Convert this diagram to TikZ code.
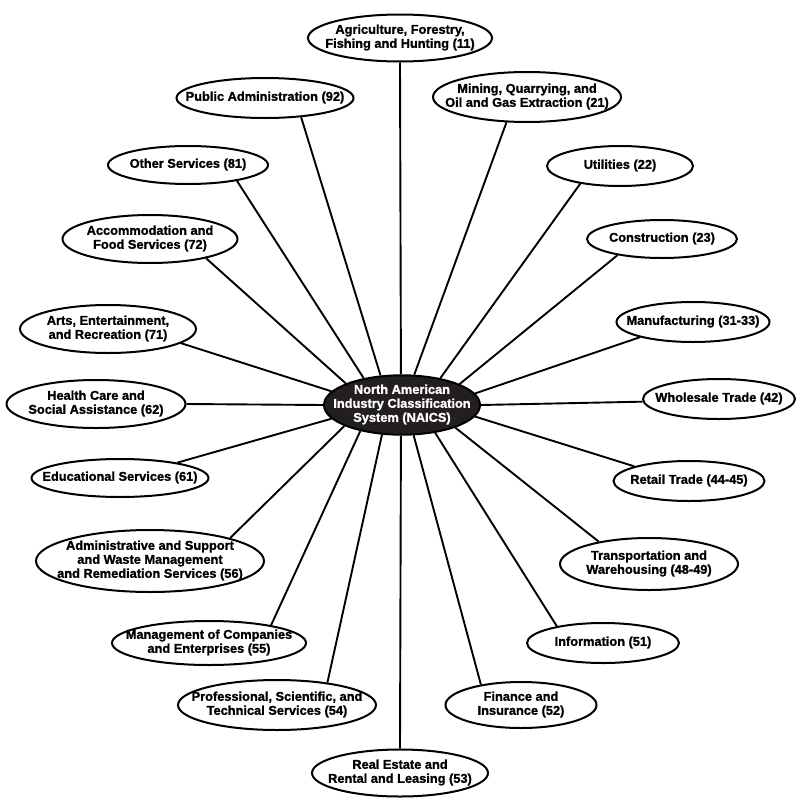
\documentclass[tikz,border=0pt]{standalone}
\usepackage{fontspec}
\setmainfont{Liberation Sans}[BoldFeatures={FakeBold=1.2}]
\usetikzlibrary{shapes.geometric}
\newcommand\lab[1]{\makebox[0pt]{\begin{tabular}{@{}c@{}}#1\end{tabular}}}
\definecolor{hubfill}{HTML}{231F20}
\tikzset{
  leaf/.style={ellipse, draw=black, line width=2pt, fill=white, inner sep=0pt,
    font=\fontsize{12.8}{14}\selectfont\bfseries, text=black},
  hubnode/.style={ellipse, draw=black, line width=2pt, fill=hubfill, inner sep=0pt,
    font=\fontsize{12.8}{14}\selectfont\bfseries, text=white},
  link/.style={draw=black, line width=1.9pt}
}
\begin{document}
\begin{tikzpicture}[x=1pt,y=-1pt]
\useasboundingbox (0,0) rectangle (800,811);
\node[hubnode, minimum width=156, minimum height=54] (hub) at (402,405)
  {\lab{North American\\Industry Classification\\System (NAICS)}};
\node[leaf, minimum width=184, minimum height=47] (agri) at (400,38) {\lab{Agriculture, Forestry,\\Fishing and Hunting (11)}};
\node[leaf, minimum width=188, minimum height=50] (mining) at (527,97) {\lab{Mining, Quarrying, and\\Oil and Gas Extraction (21)}};
\node[leaf, minimum width=146, minimum height=40] (util) at (620,166) {\lab{Utilities (22)}};
\node[leaf, minimum width=150, minimum height=38] (constr) at (662,239) {\lab{Construction (23)}};
\node[leaf, minimum width=153, minimum height=40] (manuf) at (693,322) {\lab{Manufacturing (31-33)}};
\node[leaf, minimum width=152, minimum height=40] (whole) at (719,399) {\lab{Wholesale Trade (42)}};
\node[leaf, minimum width=151, minimum height=40] (retail) at (689,481) {\lab{Retail Trade (44-45)}};
\node[leaf, minimum width=178, minimum height=52] (trans) at (649,564) {\lab{Transportation and\\Warehousing (48-49)}};
\node[leaf, minimum width=152, minimum height=40] (info) at (603,643) {\lab{Information (51)}};
\node[leaf, minimum width=151, minimum height=46] (fin) at (521,705) {\lab{Finance and\\Insurance (52)}};
\node[leaf, minimum width=176, minimum height=47] (real) at (400,773) {\lab{Real Estate and\\Rental and Leasing (53)}};
\node[leaf, minimum width=198, minimum height=50] (prof) at (277,705) {\lab{Professional, Scientific, and\\Technical Services (54)}};
\node[leaf, minimum width=194, minimum height=44] (mgmt) at (209,643) {\lab{Management of Companies\\and Enterprises (55)}};
\node[leaf, minimum width=228, minimum height=62] (admin) at (150,561) {\lab{Administrative and Support\\and Waste Management\\and Remediation Services (56)}};
\node[leaf, minimum width=177, minimum height=38] (edu) at (120,478) {\lab{Educational Services (61)}};
\node[leaf, minimum width=179, minimum height=48] (health) at (96,404) {\lab{Health Care and\\Social Assistance (62)}};
\node[leaf, minimum width=176, minimum height=48] (arts) at (108,329) {\lab{Arts, Entertainment,\\and Recreation (71)}};
\node[leaf, minimum width=175, minimum height=48] (accom) at (150,239) {\lab{Accommodation and\\Food Services (72)}};
\node[leaf, minimum width=160, minimum height=38] (other) at (188,165) {\lab{Other Services (81)}};
\node[leaf, minimum width=177, minimum height=40] (pubadm) at (265,98) {\lab{Public Administration (92)}};
\draw[link] (agri.270) -- (hub.92);
\draw[link] (pubadm.332) -- (hub.126);
\draw[link] (other.342) -- (hub.145);
\draw[link] (accom.341) -- (hub.159);
\draw[link] (arts.349) -- (hub.169);
\draw[link] (health.0) -- (hub.180);
\draw[link] (edu.15) -- (hub.191);
\draw[link] (admin.16) -- (hub.200);
\draw[link] (mgmt.16) -- (hub.212);
\draw[link] (prof.24) -- (hub.236);
\draw[link] (real.90) -- (hub.268);
\draw[link] (fin.153) -- (hub.291);
\draw[link] (info.160) -- (hub.320);
\draw[link] (trans.156) -- (hub.337);
\draw[link] (retail.165) -- (hub.351);
\draw[link] (whole.182) -- (hub.0);
\draw[link] (manuf.196) -- (hub.9);
\draw[link] (constr.200) -- (hub.20);
\draw[link] (util.204) -- (hub.35);
\draw[link] (mining.231) -- (hub.68);
\end{tikzpicture}
\end{document}
